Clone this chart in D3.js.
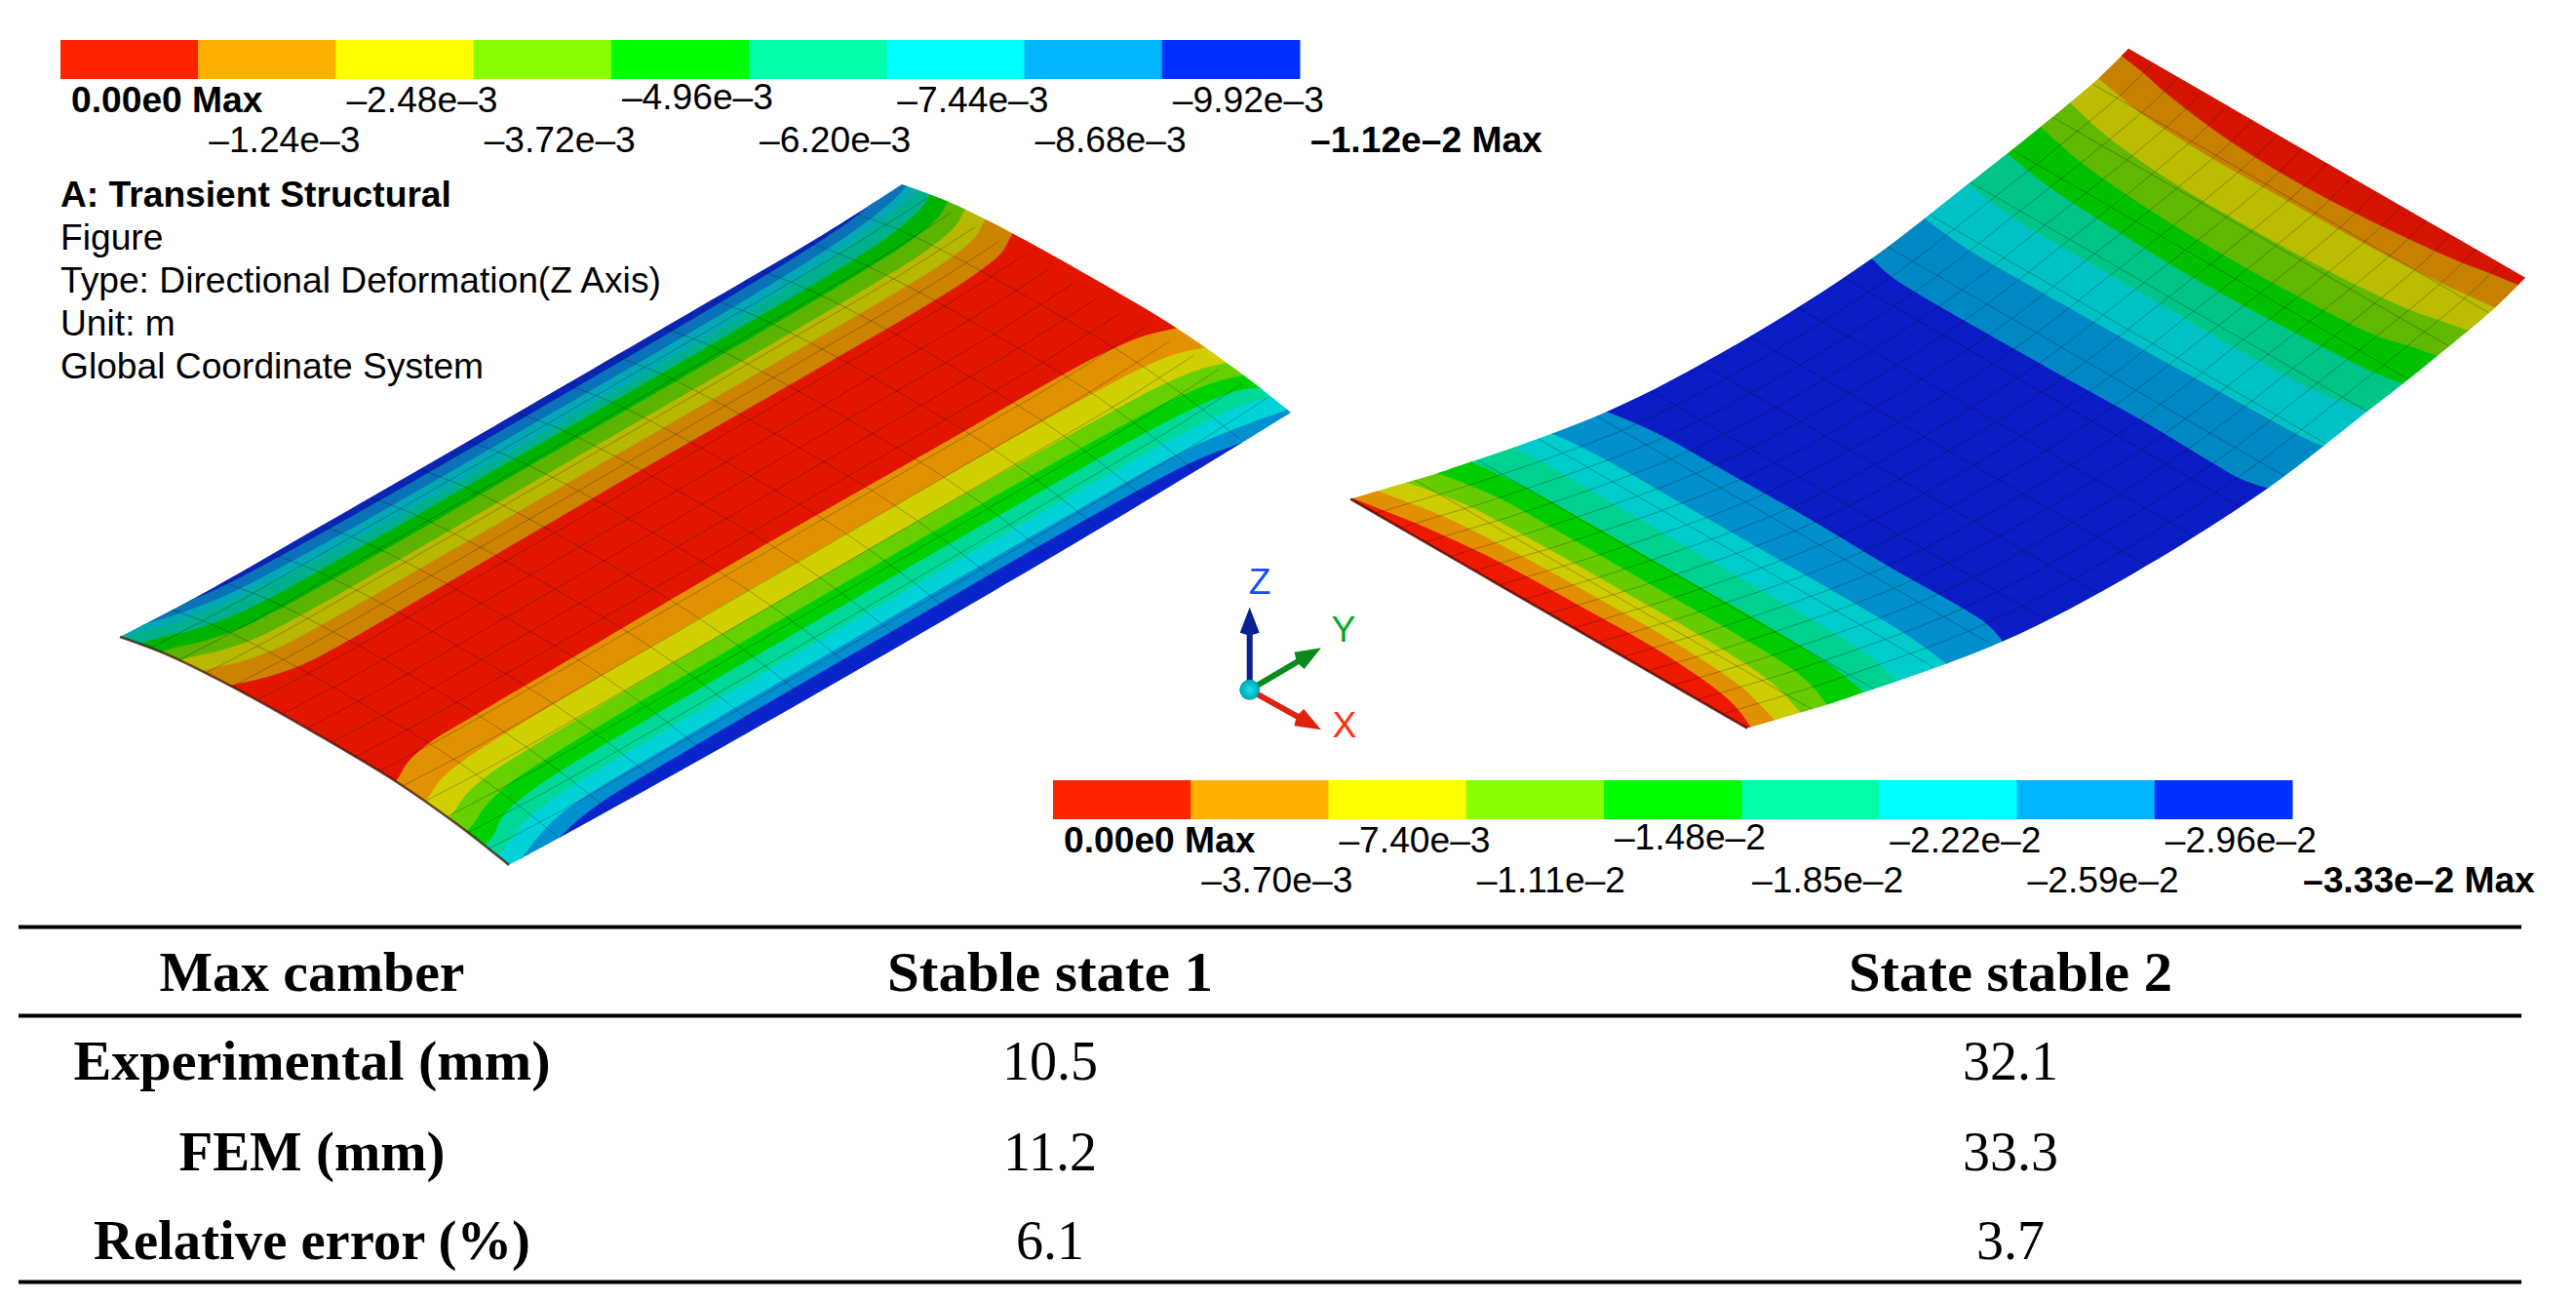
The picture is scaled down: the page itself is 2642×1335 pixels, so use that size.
<!DOCTYPE html>
<html lang="en">
<head>
<meta charset="utf-8">
<title>Max camber</title>
<style>
    body { margin: 0; background: #fff; }
    svg { display: block; }
    .ansys { font-family: "Liberation Sans", Arial, sans-serif; font-size: 37.2px; fill: #000; }
    .table { font-family: "Liberation Serif", serif; font-size: 56px; fill: #000; }
    .mesh { fill: none; stroke: #000; stroke-opacity: 0.26; stroke-width: 1; }
</style>
</head>
<body>
<div id="chart"></div>
<script src="https://d3js.org/d3.v7.min.js"></script>
<script>
// legend values
const legendColors = ["#ff2400", "#ffb000", "#ffff00", "#88ff00", "#00ff00", "#00ffa8", "#00ffff", "#00b4ff", "#0030ff"];
const legendLabels1 = ["0.00e0 Max", "–1.24e–3", "–2.48e–3", "–3.72e–3", "–4.96e–3", "–6.20e–3", "–7.44e–3", "–8.68e–3", "–9.92e–3", "–1.12e–2 Max"];
const legendLabels2 = ["0.00e0 Max", "–3.70e–3", "–7.40e–3", "–1.11e–2", "–1.48e–2", "–1.85e–2", "–2.22e–2", "–2.59e–2", "–2.96e–2", "–3.33e–2 Max"];
const infoLines = ["A: Transient Structural", "Figure", "Type: Directional Deformation(Z Axis)", "Unit: m", "Global Coordinate System"];

// table values
const tableHeader = ["Max camber", "Stable state 1", "State stable 2"];
const rowNames = ["Experimental (mm)", "FEM (mm)", "Relative error (%)"];
const state1Values = ["10.5", "11.2", "6.1"];
const state2Values = ["32.1", "33.3", "3.7"];

// left shell: position along the span (t) where the contours were read
const leftStations = [-0.03, 0.017, 0.05, 0.087, 0.13, 0.25, 0.5, 0.75, 0.885, 0.945, 0.99, 1.018, 1.05];
// left shell: contour position across the plate (s) at each station, upper edge to lower edge
const leftContours = [
    [-0.06, -0.05, -0.015, 0.01, 0.022, 0.03, 0.033, 0.03, 0.022, 0.01, -0.015, -0.05, -0.06],
    [-0.03, -0.005, 0.018, 0.036, 0.048, 0.057, 0.059, 0.057, 0.048, 0.036, 0.018, -0.005, -0.03],
    [-0.01, 0.015, 0.04, 0.056, 0.068, 0.086, 0.09, 0.086, 0.068, 0.056, 0.04, 0.015, -0.01],
    [0.03, 0.048, 0.075, 0.095, 0.105, 0.11, 0.111, 0.11, 0.105, 0.095, 0.075, 0.048, 0.03],
    [0.075, 0.09, 0.118, 0.136, 0.143, 0.147, 0.147, 0.147, 0.143, 0.136, 0.118, 0.09, 0.075],
    [0.115, 0.132, 0.16, 0.178, 0.184, 0.187, 0.187, 0.187, 0.184, 0.178, 0.16, 0.132, 0.115],
    [0.165, 0.182, 0.21, 0.226, 0.231, 0.233, 0.233, 0.233, 0.231, 0.226, 0.21, 0.182, 0.165],
    [0.23, 0.25, 0.277, 0.295, 0.3, 0.3, 0.298, 0.3, 0.299, 0.293, 0.278, 0.25, 0.23],
    [0.69, 0.673, 0.643, 0.629, 0.627, 0.625, 0.621, 0.625, 0.626, 0.631, 0.645, 0.668, 0.69],
    [0.77, 0.752, 0.725, 0.712, 0.707, 0.702, 0.7, 0.702, 0.706, 0.711, 0.725, 0.75, 0.77],
    [0.835, 0.817, 0.79, 0.775, 0.77, 0.765, 0.763, 0.765, 0.77, 0.775, 0.79, 0.813, 0.83],
    [0.885, 0.868, 0.84, 0.822, 0.815, 0.808, 0.807, 0.808, 0.815, 0.822, 0.84, 0.865, 0.88],
    [0.935, 0.92, 0.885, 0.868, 0.86, 0.856, 0.855, 0.856, 0.86, 0.868, 0.885, 0.918, 0.93],
    [0.975, 0.958, 0.93, 0.914, 0.907, 0.903, 0.902, 0.903, 0.907, 0.914, 0.93, 0.96, 0.975],
    [1.02, 1.0, 0.975, 0.955, 0.946, 0.943, 0.942, 0.943, 0.948, 0.965, 0.985, 1.0, 1.02],
    [1.05, 1.03, 1.012, 0.992, 0.98, 0.975, 0.974, 0.975, 0.985, 1.01, 1.03, 1.04, 1.05]
];
const leftBandColors = ["#0a24b4", "#0a72b8", "#00a8b4", "#00b08c", "#00b200", "#5cb400", "#b8b800", "#cc8400", "#e21600",
    "#e29200", "#d0d000", "#66d000", "#00d000", "#00d898", "#00d2d8", "#0090d0", "#0a24cc"];
// left shell outline, read against the chord between the corners
const leftEdgeT = [0, 0.1, 0.25, 0.5, 0.75, 0.9, 1];
const leftEdgeUpper = [0, 0.01, 0.012, 0.013, 0.012, 0.01, 0];
const leftEdgeLower = [1, 1.006, 1.012, 1.015, 1.012, 1.006, 1];
const leftEndS = [0, 0.1, 0.25, 0.46, 0.67, 0.85, 1];
const leftEndBow = [0, 0.011, 0.0175, 0.02, 0.019, 0.011, 0];

// right shell: position across the plate (w) where the contours were read
const rightStations = [-0.03, 0, 0.06, 0.13, 0.3, 0.5, 0.7, 0.87, 0.94, 1, 1.03];
// right shell: contour position along the span (v) at each station
const rightContours = [
    [0, 0.003, 0.009, 0.016, 0.026, 0.029, 0.03, 0.023, 0.015, 0.004, 0],
    [0.022, 0.027, 0.034, 0.041, 0.047, 0.049, 0.049, 0.043, 0.035, 0.027, 0.022],
    [0.05, 0.055, 0.063, 0.069, 0.072, 0.073, 0.073, 0.068, 0.061, 0.052, 0.05],
    [0.08, 0.085, 0.092, 0.097, 0.098, 0.098, 0.098, 0.095, 0.088, 0.078, 0.075],
    [0.115, 0.119, 0.123, 0.126, 0.127, 0.127, 0.127, 0.125, 0.121, 0.115, 0.112],
    [0.16, 0.163, 0.165, 0.165, 0.164, 0.163, 0.163, 0.161, 0.156, 0.15, 0.148],
    [0.198, 0.202, 0.206, 0.208, 0.208, 0.208, 0.208, 0.207, 0.204, 0.2, 0.198],
    [0.258, 0.262, 0.2675, 0.271, 0.272, 0.273, 0.271, 0.272, 0.27, 0.261, 0.255],
    [0.605, 0.602, 0.595, 0.593, 0.593, 0.594, 0.596, 0.594, 0.594, 0.601, 0.605],
    [0.685, 0.681, 0.677, 0.674, 0.674, 0.675, 0.677, 0.679, 0.68, 0.683, 0.687],
    [0.752, 0.747, 0.742, 0.738, 0.737, 0.737, 0.736, 0.739, 0.744, 0.75, 0.755],
    [0.81, 0.806, 0.8, 0.795, 0.79, 0.787, 0.79, 0.795, 0.798, 0.804, 0.808],
    [0.862, 0.857, 0.85, 0.843, 0.835, 0.832, 0.834, 0.84, 0.85, 0.857, 0.86],
    [0.907, 0.903, 0.895, 0.888, 0.88, 0.879, 0.882, 0.89, 0.898, 0.905, 0.908],
    [0.952, 0.948, 0.942, 0.936, 0.932, 0.933, 0.935, 0.94, 0.944, 0.948, 0.952],
    [0.992, 0.988, 0.983, 0.975, 0.963, 0.96, 0.966, 0.976, 0.983, 0.988, 0.992]
];
const rightBandColors = ["#ee1a00", "#e09000", "#cccc00", "#66cc00", "#00cc00", "#00d090", "#00cccc", "#008ecc", "#0a1cc4",
    "#0088c4", "#00c2c4", "#00c488", "#00c000", "#60b800", "#bcbc00", "#c88000", "#d41400"];
// right shell: how far the long edges bend away from their chord
const rightBowV = [0, 0.05, 0.095, 0.26, 0.42, 0.6, 0.75, 0.84, 0.95, 1];
const rightBow = [0, 0.032, 0.059, 0.133, 0.15, 0.134, 0.092, 0.065, 0.026, 0];

const meshDivisions = d3.range(1, 16).map(d => d / 16);

// triad
const triadNames = ["Z", "Y", "X"];
const triadTips = [[0, 84.6], [73.3, 43], [73.3, -41]];

const svg = d3.select("#chart").append("svg")
    .attr("width", 2642)
    .attr("height", 1335);

// screen position of a shell point: corner + across * a + along * b
function makeShell(corner, across, along) {
    const ax = d3.scaleLinear().domain([0, 1]).range([0, across[0]]);
    const ay = d3.scaleLinear().domain([0, 1]).range([0, across[1]]);
    const bx = d3.scaleLinear().domain([0, 1]).range([0, along[0]]);
    const by = d3.scaleLinear().domain([0, 1]).range([0, along[1]]);
    return (a, b) => [corner[0] + ax(a) + bx(b), corner[1] + ay(a) + by(b)];
}

const linePath = d3.line().curve(d3.curveCatmullRom);

// several curve pieces joined to one closed outline
function joinedPath(parts) {
    return parts.map((p, i) => {
        const d = linePath(p);
        return i === 0 ? d : "L" + d.slice(1);
    }).join("") + "Z";
}

function drawBands(g, clipId, outline, stations, contours, colors, toScreen, lowEnd, highEnd) {
    g.append("clipPath").attr("id", clipId).append("path").attr("d", outline);

    const body = g.append("g").attr("clip-path", `url(#${clipId})`);

    colors.forEach((color, i) => {
        const from = i === 0 ? stations.map(() => lowEnd) : contours[i - 1];
        const to = i === contours.length ? stations.map(() => highEnd) : contours[i];
        const area = d3.area()
            .curve(d3.curveCatmullRom)
            .x0(k => toScreen(k, from[k])[0])
            .y0(k => toScreen(k, from[k])[1])
            .x1(k => toScreen(k, to[k])[0])
            .y1(k => toScreen(k, to[k])[1]);
        body.append("path")
            .attr("d", area(d3.range(stations.length)))
            .attr("fill", color)
            .attr("stroke", color)
            .attr("stroke-width", 0.8);
    });
    return body;
}

// ---------- left shell, stable state 1 ----------
function drawLeftShell() {
    const g = svg.append("g");
    const point = makeShell([123, 653], [399, 234], [802, -464]);
    const upperBow = d3.scaleLinear().domain(leftEdgeT).range(leftEdgeUpper);
    const endBow = d3.scaleLinear().domain(leftEndS).range(leftEndBow);

    const upper = leftEdgeT.map((t, i) => point(leftEdgeUpper[i], t));
    const lower = leftEdgeT.map((t, i) => point(leftEdgeLower[i], t));
    const front = leftEndS.map((s, i) => point(s, leftEndBow[i]));
    const back = leftEndS.map((s, i) => point(s, 1 + leftEndBow[i]));

    const outline = joinedPath([upper, back, lower.slice().reverse(), front.slice().reverse()]);
    const body = drawBands(g, "left-clip", outline, leftStations, leftContours, leftBandColors,
        (k, s) => point(s, leftStations[k]), -0.1, 1.1);

    // element edges
    meshDivisions.forEach(d => {
        body.append("path").attr("class", "mesh")
            .attr("d", linePath(leftEndS.map(s => point(s, d + endBow(s)))));
        body.append("path").attr("class", "mesh")
            .attr("d", linePath(leftEdgeT.map(t => point(d + upperBow(t), t))));
    });

    g.append("path")
        .attr("d", linePath(front))
        .attr("fill", "none")
        .attr("stroke", "#3c1000")
        .attr("stroke-opacity", 0.75)
        .attr("stroke-width", 2.5);
}

// ---------- right shell, stable state 2 ----------
function drawRightShell() {
    const g = svg.append("g");
    const plate = makeShell([1385, 511.7], [407, 235], [798, -462]);
    const bow = d3.scaleLinear().domain(rightBowV).range(rightBow);
    const point = (w, v) => plate(w + bow(Math.max(0, Math.min(1, v))), v);

    const upper = rightBowV.map(v => point(0, v));
    const lower = rightBowV.map(v => point(1, v));
    const outline = joinedPath([upper, [point(0, 1), point(1, 1)], lower.slice().reverse(), [point(1, 0), point(0, 0)]]);

    const body = drawBands(g, "right-clip", outline, rightStations, rightContours, rightBandColors,
        (k, v) => point(rightStations[k], v), -0.05, 1.05);

    meshDivisions.forEach(d => {
        body.append("path").attr("class", "mesh")
            .attr("d", linePath(rightBowV.map(v => point(d, v))));
        body.append("path").attr("class", "mesh")
            .attr("d", linePath([0, 0.5, 1].map(w => point(w, d))));
    });

    g.append("path")
        .attr("d", linePath([point(0, 0), point(1, 0)]))
        .attr("fill", "none")
        .attr("stroke", "#4a0600")
        .attr("stroke-opacity", 0.8)
        .attr("stroke-width", 2.5);
}

// ---------- colour legend ----------
function drawLegend(x0, y0, labels) {
    const g = svg.append("g");
    const x = d3.scaleLinear().domain([0, 9]).range([x0, x0 + 1271]);

    g.selectAll("rect")
        .data(legendColors)
        .join("rect")
        .attr("x", (d, i) => x(i))
        .attr("y", y0)
        .attr("width", x(1) - x(0) + 0.5)
        .attr("height", 40)
        .attr("fill", d => d);

    g.selectAll("text")
        .data(labels)
        .join("text")
        .attr("class", "ansys")
        .attr("x", (d, i) => x(i) + 11)
        // labels sit on two alternating rows, the middle one is a bit higher
        .attr("y", (d, i) => y0 + (i % 2 ? 115 : i === 4 ? 71 : 74))
        .attr("font-weight", (d, i) => (i === 0 || i === 9) ? "bold" : null)
        .text(d => d);
}

// ---------- solver information ----------
function drawInfo() {
    const y = d3.scaleLinear().domain([0, 4]).range([212, 388]);
    svg.append("g").selectAll("text")
        .data(infoLines)
        .join("text")
        .attr("class", "ansys")
        .attr("x", 62)
        .attr("y", (d, i) => y(i))
        .attr("font-weight", (d, i) => i === 0 ? "bold" : null)
        .text(d => d);
}

// ---------- coordinate triad ----------
function drawTriad() {
    const cx = 1281.7, cy = 707.3;
    const g = svg.append("g");
    const colors = ["#0a1f90", "#0a8a1a", "#e02010"];
    const labelColors = ["#1a4cff", "#00aa22", "#ff3010"];
    const labelPos = [[1292, 609], [1378, 658], [1379, 756]];

    const sphere = g.append("radialGradient").attr("id", "sphere");
    sphere.append("stop").attr("offset", "0%").attr("stop-color", "#10e4ee");
    sphere.append("stop").attr("offset", "100%").attr("stop-color", "#00a4ac");

    triadTips.forEach((tip, i) => {
        const len = Math.hypot(tip[0], tip[1]);
        const ux = tip[0] / len, uy = -tip[1] / len;
        const bx = cx + ux * (len - 26), by = cy + uy * (len - 26);

        g.append("line")
            .attr("x1", cx).attr("y1", cy)
            .attr("x2", bx).attr("y2", by)
            .attr("stroke", colors[i])
            .attr("stroke-width", 6);

        g.append("path")
            .attr("d", d3.line()([
                [cx + ux * len, cy + uy * len],
                [bx - uy * 10, by + ux * 10],
                [bx - ux * 3, by - uy * 3],
                [bx + uy * 10, by - ux * 10]
            ]) + "Z")
            .attr("fill", colors[i]);

        g.append("text")
            .attr("class", "ansys")
            .attr("x", labelPos[i][0])
            .attr("y", labelPos[i][1])
            .attr("text-anchor", "middle")
            .style("fill", labelColors[i])
            .text(triadNames[i]);
    });

    g.append("circle")
        .attr("cx", cx)
        .attr("cy", cy)
        .attr("r", 10.5)
        .attr("fill", "url(#sphere)");
}

// ---------- table ----------
function drawTable() {
    const g = svg.append("g");
    const col = d3.scaleOrdinal().domain([0, 1, 2]).range([320, 1077, 2062]);
    const row = d3.scaleOrdinal().domain([0, 1, 2]).range([1107, 1200, 1291]);

    [950.5, 1041.5, 1314.5].forEach(y => {
        g.append("line")
            .attr("x1", 19).attr("x2", 2586)
            .attr("y1", y).attr("y2", y)
            .attr("stroke", "#000")
            .attr("stroke-width", 4);
    });

    const cell = (text, c, y, bold, width) => {
        const t = g.append("text")
            .attr("class", "table")
            .attr("x", col(c))
            .attr("y", y)
            .attr("text-anchor", "middle")
            .attr("font-weight", bold ? "bold" : null)
            .text(text);
        if (width) {
            t.attr("textLength", width).attr("lengthAdjust", "spacingAndGlyphs");
        }
    };

    const headWidths = [313, 334, 332];
    const nameWidths = [489, 273, 448];
    tableHeader.forEach((d, i) => cell(d, i, 1016, true, headWidths[i]));
    rowNames.forEach((d, i) => cell(d, 0, row(i), true, nameWidths[i]));
    state1Values.forEach((d, i) => cell(d, 1, row(i), false));
    state2Values.forEach((d, i) => cell(d, 2, row(i), false));
}

drawLeftShell();
drawRightShell();
drawLegend(62, 41, legendLabels1);
drawLegend(1080, 800, legendLabels2);
drawInfo();
drawTriad();
drawTable();
</script>
</body>
</html>
